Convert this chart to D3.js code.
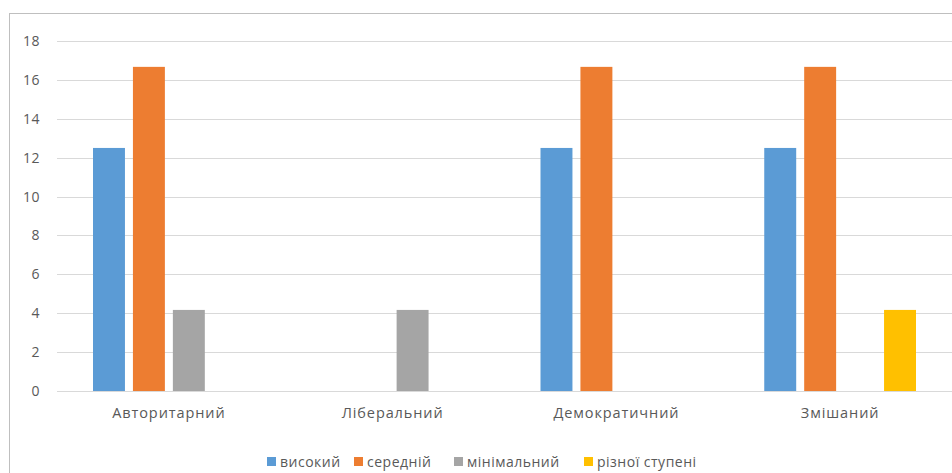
<!DOCTYPE html>
<html>
<head>
<meta charset="utf-8">
<script src="https://cdn.jsdelivr.net/npm/d3@7"></script>
<style>
  html, body { margin: 0; padding: 0; background: #fff; }
  svg { display: block; }
  text { font-family: "Open Sans", "Noto Sans", sans-serif; fill: #595959; }
</style>
</head>
<body>
<svg id="chart" width="952" height="473"></svg>
<script>
// Categories (management styles) and series (levels)
const categories = ["Авторитарний", "Ліберальний", "Демократичний", "Змішаний"];
const seriesNames = ["високий", "середній", "мінімальний", "різної ступені"];
const seriesColors = ["#5B9BD5", "#ED7D31", "#A5A5A5", "#FFC000"];

// Values per series, in category order
const vysokyi   = [12.5, 0, 12.5, 12.5];
const serednii  = [16.67, 0, 16.67, 16.67];
const minimalny = [4.17, 4.17, 0, 0];
const rizni     = [0, 0, 0, 4.17];

const yTicks = [0, 2, 4, 6, 8, 10, 12, 14, 16, 18];

const seriesValues = [vysokyi, serednii, minimalny, rizni];

const svg = d3.select("#chart");

// Chart frame
svg.append("rect")
  .attr("x", 9.5).attr("y", 13.5)
  .attr("width", 960).attr("height", 480)
  .attr("fill", "none").attr("stroke", "#BFBFBF").attr("stroke-width", 1);

const plot = { left: 57, right: 952, top: 41, bottom: 391 };

const x0 = d3.scaleBand().domain(categories).range([plot.left, plot.right]).padding(0);
const groupPad = 36;
const x1 = d3.scaleBand().domain(seriesNames)
  .range([groupPad, x0.bandwidth() - groupPad])
  .paddingInner(0.2).paddingOuter(0);
const y = d3.scaleLinear().domain([0, 18]).range([plot.bottom, plot.top]);

// Horizontal gridlines
svg.append("g")
  .selectAll("line")
  .data(yTicks)
  .join("line")
  .attr("x1", plot.left).attr("x2", plot.right)
  .attr("y1", d => Math.round(y(d)) + 0.5).attr("y2", d => Math.round(y(d)) + 0.5)
  .attr("stroke", "#D9D9D9").attr("stroke-width", 1.2);

// Y axis labels
const yAxis = d3.axisLeft(y).tickValues(yTicks).tickSize(0).tickPadding(0);
const gy = svg.append("g").attr("transform", `translate(40,0)`).call(yAxis);
gy.select(".domain").remove();
gy.selectAll("text")
  .attr("font-size", 14)
  .attr("letter-spacing", "0.5px")
  .attr("font-family", "\"Open Sans\", \"Noto Sans\", sans-serif")
  .attr("fill", "#595959");

// Bars
const rows = [];
categories.forEach((c, ci) => {
  seriesNames.forEach((s, si) => {
    rows.push({ cat: c, series: s, value: seriesValues[si][ci], color: seriesColors[si] });
  });
});

svg.append("g")
  .selectAll("rect")
  .data(rows.filter(d => d.value > 0))
  .join("rect")
  .attr("x", d => x0(d.cat) + x1(d.series))
  .attr("width", x1.bandwidth())
  .attr("y", d => y(d.value))
  .attr("height", d => y(0) - y(d.value))
  .attr("fill", d => d.color);

// Category axis labels
const xAxis = d3.axisBottom(x0).tickSize(0).tickPadding(0);
const gx = svg.append("g").attr("transform", `translate(0,${plot.bottom + 17})`).call(xAxis);
gx.select(".domain").remove();
gx.selectAll("text")
  .attr("font-size", 14.5)
  .attr("letter-spacing", "0.9px")
  .attr("font-family", "\"Open Sans\", \"Noto Sans\", sans-serif")
  .attr("fill", "#595959");

// Legend
const legendX = [267, 354, 454, 584];
const legend = svg.append("g")
  .selectAll("g")
  .data(seriesNames)
  .join("g")
  .attr("transform", (d, i) => `translate(${legendX[i]},462)`);
legend.append("rect")
  .attr("x", 0).attr("y", -5).attr("width", 9).attr("height", 9)
  .attr("fill", (d, i) => seriesColors[i]);
legend.append("text")
  .attr("x", 13).attr("y", 0)
  .attr("dy", "0.35em")
  .attr("font-size", 14)
  .attr("letter-spacing", "0.5px")
  .text(d => d);
</script>
</body>
</html>
